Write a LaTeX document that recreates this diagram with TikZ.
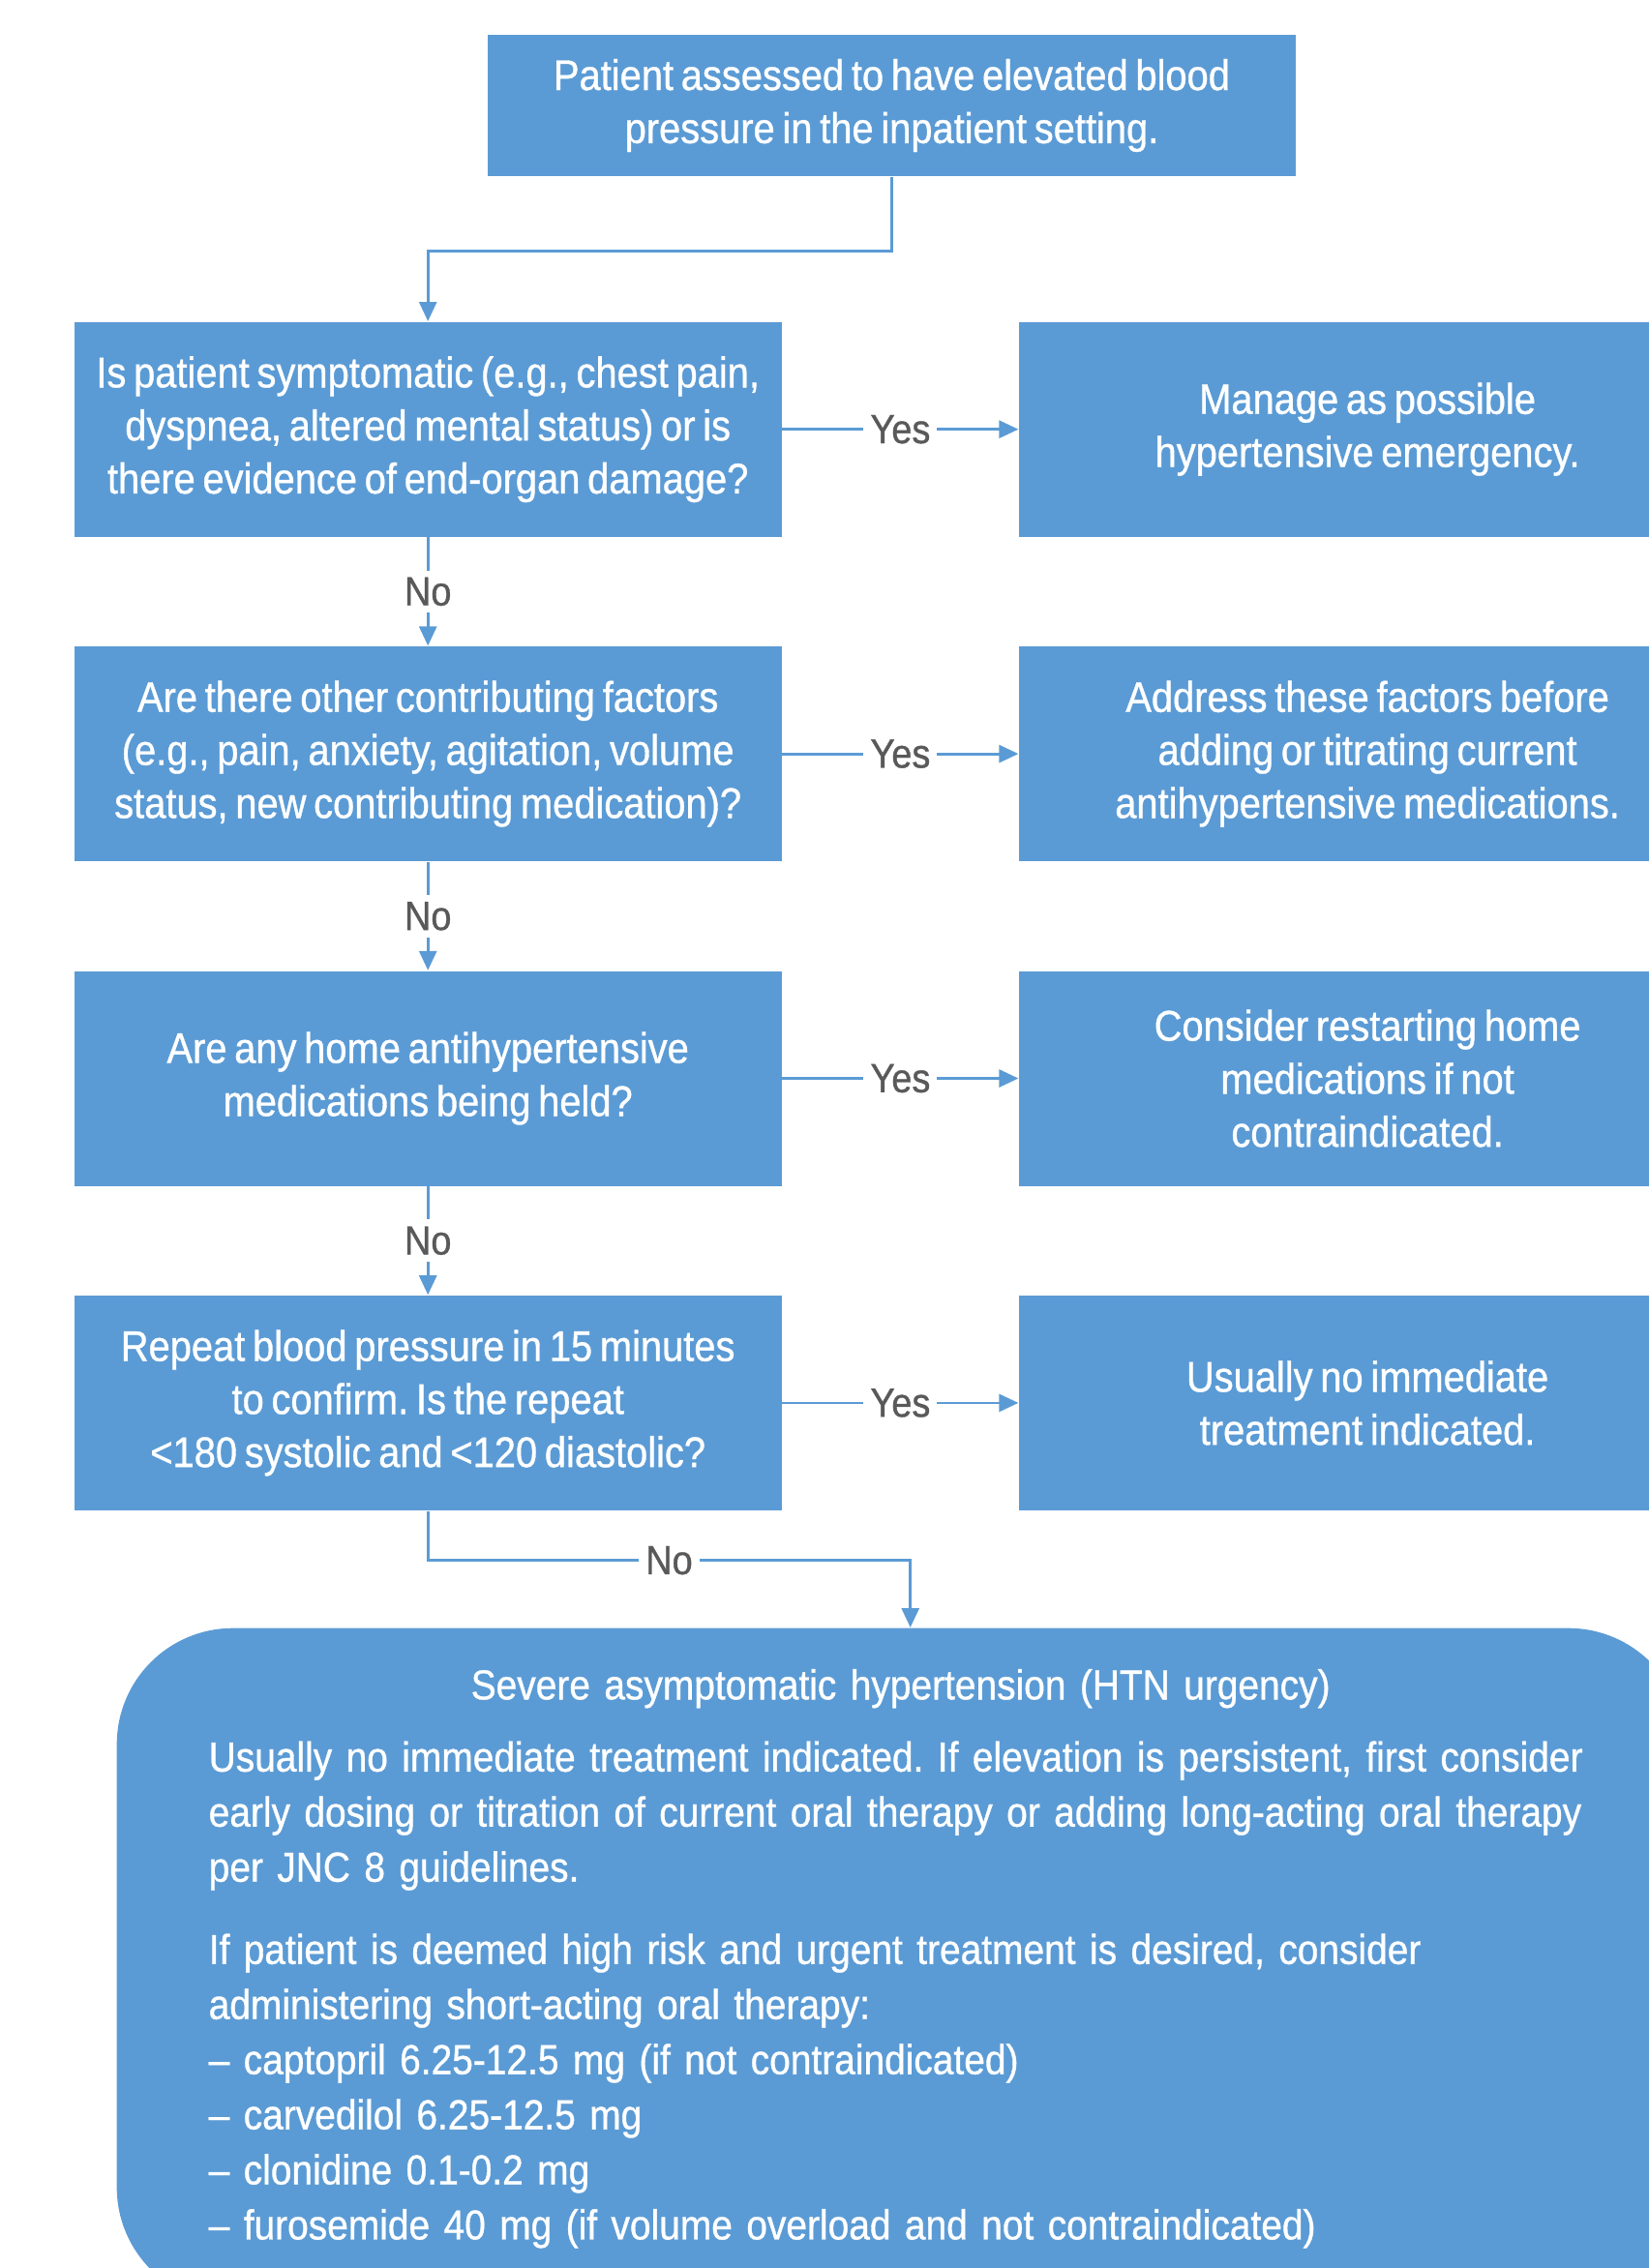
\documentclass[tikz,border=0pt]{standalone}
\usepackage{fontspec}
\setmainfont{Liberation Sans}[FakeStretch=0.9,WordSpace=0.7,FakeBold=0.8]
\usetikzlibrary{arrows.meta,positioning}
\definecolor{flowblue}{HTML}{5B9BD5}
\definecolor{labelgray}{HTML}{595959}

\begin{document}
\frenchspacing
\begin{tikzpicture}[>={Triangle[length=0.2cm,width=0.18cm]},
 font=\fontsize{12}{15.6}\selectfont,
 box/.style={fill=flowblue,text=white,align=flush center,inner sep=0.15cm,
  font=\fontsize{12.6}{15.6}\selectfont},
 qbox/.style={box,text width=7.0cm,minimum width=7.31cm,minimum height=2.22cm},
 abox/.style={box,text width=6.9cm,minimum width=7.2cm,minimum height=2.22cm},
 urgbox/.style={fill=flowblue,text=white,rounded corners=1.2cm,inner xsep=0.95cm,
  text width=14.3cm,minimum width=16.1cm,minimum height=6.98cm,
  font=\fontsize{12.3}{16.2}\selectfont},
 link/.style={draw=flowblue,line width=0.8pt},
 lbl/.style={fill=white,text=labelgray,inner sep=2pt}]
 \useasboundingbox (0,0) rectangle (17.04,-23.44);
 \node[box,minimum width=8.35cm,minimum height=1.46cm] (start) at (9.215,-1.09)
 {Patient assessed to have elevated blood\\pressure in the inpatient setting.};
 % questions on the left, answers on the right
 \node[qbox,anchor=north west] (symptoms) at (0.76,-3.32)
 {Is patient symptomatic (e.g., chest pain,\\dyspnea, altered mental status) or is\\there evidence of end-organ damage?};
 \node[qbox,below=1.12cm of symptoms] (factors)
 {Are there other contributing factors\\(e.g., pain, anxiety, agitation, volume\\status, new contributing medication)?};
 \node[qbox,below=1.12cm of factors] (homemeds)
 {Are any home antihypertensive\\medications being held?};
 \node[qbox,below=1.12cm of homemeds] (recheck)
 {Repeat blood pressure in 15 minutes\\to confirm. Is the repeat\\<180 systolic and <120 diastolic?};
 \node[abox,right=2.44cm of symptoms] (emergency)
 {Manage as possible\\hypertensive emergency.};
 \node[abox,right=2.44cm of factors] (address)
 {Address these factors before\\adding or titrating current\\antihypertensive medications.};
 \node[abox,right=2.44cm of homemeds] (restart)
 {Consider restarting home\\medications if not\\contraindicated.};
 \node[abox,right=2.44cm of recheck] (notreat)
 {Usually no immediate\\treatment indicated.};
 \node[urgbox,anchor=north west] (urgency) at (1.2,-16.82)
 {\raggedright{\centering Severe asymptomatic hypertension (HTN urgency)\par}\vspace{5pt}
 Usually no immediate treatment indicated. If elevation is persistent, first consider\\
 early dosing or titration of current oral therapy or adding long-acting oral therapy\\
 per JNC 8 guidelines.\par\vspace{8pt}
 If patient is deemed high risk and urgent treatment is desired, consider\\
 administering short-acting oral therapy:\\
 -- captopril 6.25-12.5 mg (if not contraindicated)\\
 -- carvedilol 6.25-12.5 mg\\
 -- clonidine 0.1-0.2 mg\\
 -- furosemide 40 mg (if volume overload and not contraindicated)\par\vspace{0.15cm}};
 \draw[link,->] (start.south) -- ++(0,-0.77) -| (symptoms.north);
 \draw[link,->] (symptoms) -- node[lbl]{Yes} (emergency);
 \draw[link,->] (factors) -- node[lbl]{Yes} (address);
 \draw[link,->] (homemeds) -- node[lbl]{Yes} (restart);
 \draw[link,->] (recheck) -- node[lbl]{Yes} (notreat);
 \draw[link,->] (symptoms) -- node[lbl]{No} (factors);
 \draw[link,->] (factors) -- node[lbl]{No} (homemeds);
 \draw[link,->] (homemeds) -- node[lbl]{No} (recheck);
 \draw[link,->] (recheck.south) -- ++(0,-0.51) -| node[lbl,pos=0.25]{No} ([xshift=0.1cm]urgency.north);
\end{tikzpicture}
\end{document}
